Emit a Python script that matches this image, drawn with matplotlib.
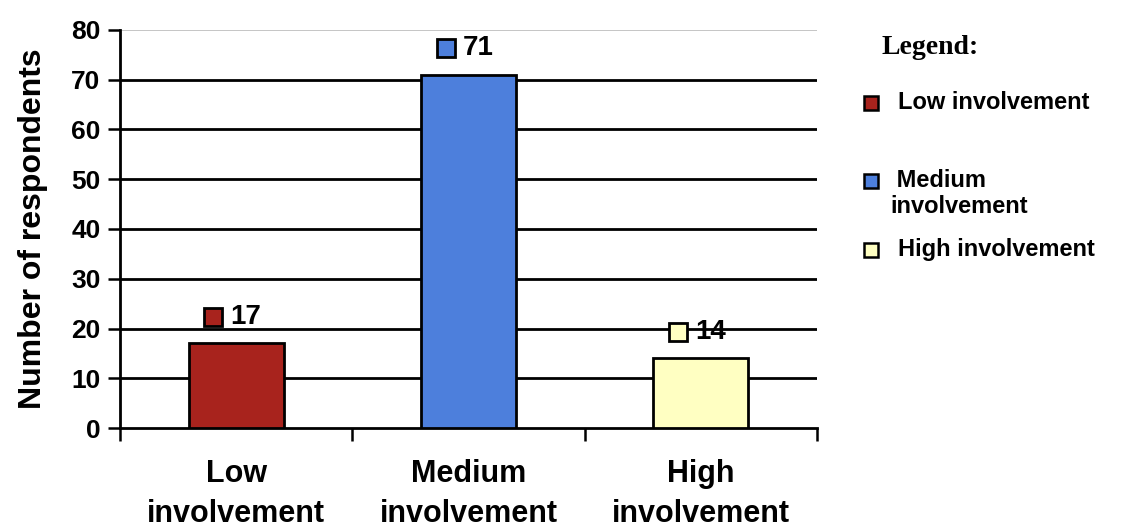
import numpy as np
import matplotlib.pyplot as plt
from matplotlib import transforms

categories = ['Low\ninvolvement', 'Medium\ninvolvement', 'High\ninvolvement']
legend_labels = ['Low involvement', ' Medium\ninvolvement', 'High involvement']
respondents = [17, 71, 14]
colors = ['#a8231d', '#4d7fdc', '#ffffc2']

plt.rcParams['font.family'] = ['Liberation Sans', 'DejaVu Sans']
plt.rcParams['font.weight'] = 'bold'

W, H = 1122, 527
fig = plt.figure(figsize=(W / 100, H / 100), dpi=100)
ax = fig.add_axes([120 / W, 1 - 428 / H, 697 / W, 398 / H])

x_pos = np.arange(len(categories))
bars = ax.bar(x_pos, respondents, width=0.41, color=colors,
              edgecolor='black', linewidth=2, zorder=3)

ax.set_xlim(-0.5, 2.5)
ax.set_ylim(0, 80)
ax.set_yticks(np.arange(0, 81, 10))
ax.tick_params(axis='y', labelsize=19, length=9, width=1.8, direction='out', pad=5)

# category names in the middle, ticks on the borders between groups
ax.set_xticks(x_pos)
ax.set_xticklabels(categories, fontsize=22, linespacing=1.45)
ax.tick_params(axis='x', which='major', length=0, pad=22)
ax.set_xticks(np.arange(-0.5, 3, 1), minor=True)
ax.tick_params(axis='x', which='minor', length=9, width=1.8, direction='out')

for y in range(10, 80, 10):
    ax.axhline(y, color='black', linewidth=2, zorder=1)
ax.axhline(80, color='#bbbbbb', linewidth=1.2, zorder=1)

ax.spines['top'].set_visible(False)
ax.spines['right'].set_visible(False)
ax.spines['left'].set_linewidth(2)
ax.spines['bottom'].set_linewidth(2)
ax.set_ylabel('Number of respondents', fontsize=23, fontweight='bold', labelpad=17)

# value labels: small coloured square followed by the count
for xi, val, col in zip(x_pos, respondents, colors):
    sq = transforms.offset_copy(ax.transData, fig=fig, x=-16.5, y=19, units='points')
    ax.plot([xi], [val], marker='s', markersize=13, color=col,
            markeredgecolor='black', markeredgewidth=2, transform=sq,
            clip_on=False, zorder=4)
    ax.annotate(str(val), xy=(xi, val), xytext=(-4, 19), textcoords='offset points',
                ha='left', va='center', fontsize=20, zorder=4)

# legend drawn by hand, positions in pixels
fig.text(881 / W, 1 - 48 / H, 'Legend:', family='Liberation Serif',
         fontsize=20, fontweight='bold', va='center', ha='left')
legend_rows = [103, 181, 250]
for lab, col, ypx in zip(legend_labels, colors, legend_rows):
    fig.add_artist(plt.Line2D([871 / W], [1 - ypx / H], marker='s', markersize=10,
                              color=col, markeredgecolor='black', markeredgewidth=1.8,
                              transform=fig.transFigure))
    fig.text(890 / W if '\n' in lab else 898 / W, 1 - (ypx - 12) / H, lab,
             fontsize=17, va='top', ha='left', linespacing=1.15)

fig.savefig('out.png', dpi=100, facecolor='white')
